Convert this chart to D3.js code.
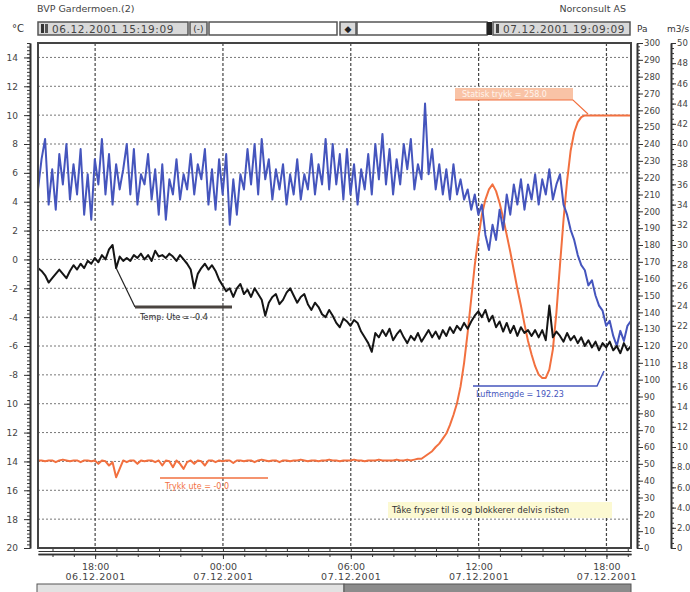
<!DOCTYPE html>
<html>
<head>
<meta charset="utf-8">
<script src="https://cdn.jsdelivr.net/npm/d3@7"></script>
<style>
  html, body { margin: 0; padding: 0; background: #fff; }
  svg { display: block; font-family: "DejaVu Sans", Verdana, sans-serif; }
</style>
</head>
<body>
<svg id="chart" width="690" height="592"></svg>
<script>
// Logged period and sampling interval
const startTime = Date.UTC(2001, 11, 6, 15, 19, 9);
const endTime = Date.UTC(2001, 11, 7, 19, 9, 9);
const sampleMinutes = 10;

// Outdoor temperature, °C (left axis)
const tempUte = [
  -0.6, -0.8, -1.1, -1.6, -1.3, -1.0, -0.7, -1.0, -1.3, -0.8,
  -0.4, -0.7, -0.3, -0.6, -0.1, -0.3, 0.1, -0.2, 0.3, 0.0,
  0.7, 1.0, -0.6, 0.2, -0.1, 0.1, -0.1, 0.3, 0.1, 0.4,
  0.0, 0.3, -0.1, 0.6, 0.2, 0.3, 0.1, 0.4, 0.2, -0.1,
  0.3, 0.0, -0.3, -0.7, -2.0, -1.0, -0.6, -0.3, -0.7, -0.4,
  -0.8, -1.4, -1.8, -2.2, -2.0, -2.6, -2.0, -1.7, -2.4, -2.1,
  -2.6, -2.0, -2.4, -2.8, -3.9, -3.0, -2.6, -2.4, -3.1, -2.8,
  -2.3, -2.0, -2.5, -3.0, -2.6, -2.4, -3.1, -3.5, -3.0, -3.3,
  -3.8, -4.0, -3.5, -3.9, -4.4, -4.7, -4.1, -4.3, -4.6, -4.2,
  -4.4, -5.0, -5.4, -5.8, -6.4, -5.1, -5.4, -4.9, -5.3, -4.8,
  -5.6, -5.2, -4.9, -5.4, -5.8, -5.3, -5.6, -5.1, -5.7, -5.3,
  -4.9, -5.4, -5.0, -5.5, -4.9, -5.3, -4.7, -5.1, -4.6, -4.9,
  -4.4, -4.8, -4.3, -3.9, -3.6, -4.0, -3.5, -4.3, -3.9, -4.7,
  -4.3, -5.0, -4.4, -5.1, -4.6, -5.3, -4.7, -5.1, -4.9, -5.3,
  -4.9, -5.4, -4.9, -5.6, -3.2, -5.4, -5.0, -5.3, -5.7, -5.1,
  -5.6, -5.3, -5.8, -5.4, -6.0, -5.6, -6.1, -5.7, -6.3, -5.8,
  -6.1, -5.7, -6.3, -6.0, -6.5, -5.8, -6.3, -6.0
];

// Air flow, m3/s (outer right axis)
const luftmengde = [
  35.5, 38.5, 40.5, 34.0, 37.5, 33.5, 39.0, 36.0, 40.0, 34.5,
  38.0, 35.0, 39.5, 33.0, 37.0, 32.5, 38.5, 36.0, 40.5, 35.0,
  39.0, 34.0, 38.0, 35.5, 37.5, 40.0, 35.0, 39.5, 34.0, 37.0,
  36.0, 39.0, 34.5, 37.5, 33.0, 38.0, 32.5, 36.5, 35.0, 38.5,
  34.5, 37.0, 35.5, 39.0, 35.0, 38.0, 36.5, 39.5, 34.0, 37.5,
  33.5, 38.5, 35.0, 39.0, 32.0, 36.5, 33.0, 37.0, 35.5, 39.5,
  36.0, 40.0, 35.0, 40.5, 36.5, 38.5, 34.5, 37.5, 35.5, 38.0,
  34.0, 37.0, 35.0, 38.5, 34.5, 37.0, 35.5, 39.0, 35.0, 38.0,
  36.0, 40.5, 35.5, 40.0, 36.0, 39.0, 34.5, 39.5, 35.0, 38.0,
  34.0, 37.5, 35.5, 39.0, 35.0, 40.0, 36.5, 41.0, 36.0, 39.5,
  35.0, 38.5, 36.0, 40.0, 37.5, 40.5, 35.5, 38.0, 36.5, 44.0,
  37.0, 39.5, 35.5, 38.0, 35.0, 37.5, 34.5, 38.0, 35.0, 36.5,
  34.5, 35.5, 33.5, 35.0, 33.0, 34.0, 31.0, 29.5, 32.0, 30.5,
  33.5, 31.5, 35.0, 33.0, 36.0, 34.0, 36.5, 33.5, 36.0, 34.5,
  37.0, 34.0, 36.5, 35.0, 37.5, 34.5, 36.0, 37.0, 34.0, 33.0,
  31.5, 30.5, 29.0, 28.0, 27.5, 26.0, 26.5, 25.0, 24.0, 23.5,
  22.0, 22.5, 21.0, 20.0, 21.5, 20.5, 22.0, 22.5
];

// Static pressure, Pa (inner right axis)
const trykk = [
  52, 52, 51.5, 52, 52, 51, 52, 52.5, 52, 51.5,
  52, 52, 51, 52, 52, 51.5, 52, 50, 52, 51.5,
  49, 51, 42, 47, 52, 51, 52, 52, 50, 52,
  51.5, 52, 52, 51, 52, 49, 52, 51.5, 48, 52,
  50, 47, 51, 52, 50, 52, 51.5, 49, 52, 52,
  51, 52, 51.5, 52, 52, 50.5, 52, 52, 51.5, 52,
  52, 51, 52, 52.5, 52, 51.5, 52, 52, 51, 52,
  52, 51.5, 52, 52, 52.5, 52, 51.5, 52, 52, 51.5,
  52, 52, 52.5, 52, 52, 51.5, 52, 52, 52, 52.5,
  52, 52, 51.5, 52, 52, 52, 52.5, 52, 52, 52,
  52, 52.5, 52, 52, 52.5, 52, 52.5, 53,
  53, 54.5, 56, 57.5, 60, 62, 65, 68, 73, 79, 86, 96,
  110, 128, 148, 168, 184, 198, 207, 213, 216, 212,
  205, 196, 186, 176, 165, 154, 144, 133, 123, 115,
  108, 103, 101, 101, 106, 118, 140, 168, 195, 218,
  236, 247, 253, 256, 257, 257, 257, 257, 257, 257,
  257, 257, 257, 257, 257, 257, 257, 257
];

// Axis ticks and labels
const tempTicks = [14, 12, 10, 8, 6, 4, 2, 0, -2, -4, -6, -8, -10, -12, -14, -16, -18, -20];
const tempTickLabels = ["14", "12", "10", "8", "6", "4", "2", "0", "-2", "-4", "-6", "-8", "10", "12", "14", "16", "18", "20"];
const paTicks = [300, 290, 280, 270, 260, 250, 240, 230, 220, 210, 200, 190, 180, 170, 160, 150,
                 140, 130, 120, 110, 100, 90, 80, 70, 60, 50, 40, 30, 20, 10, 0];
const flowTicks = [50, 48, 46, 44, 42, 40, 38, 36, 34, 32, 30, 28, 26, 24, 22, 20, 18, 16, 14, 12, 10, 8, 6, 4, 2, 0];
const flowTickLabels = ["50", "48", "46", "44", "42", "40", "38", "36", "34", "32", "30", "28", "26",
                        "24", "22", "20", "18", "16", "14", "12", "10", "8.0", "6.0", "4.0", "2.0", "0"];
const timeTicks = [Date.UTC(2001, 11, 6, 18), Date.UTC(2001, 11, 7, 0), Date.UTC(2001, 11, 7, 6),
                   Date.UTC(2001, 11, 7, 12), Date.UTC(2001, 11, 7, 18)];
const timeTickClock = ["18:00", "00:00", "06:00", "12:00", "18:00"];
const timeTickDate = ["06.12.2001", "07.12.2001", "07.12.2001", "07.12.2001", "07.12.2001"];

const svg = d3.select("#chart");
const L = 38, R = 631, T = 43, B = 548;

const x = d3.scaleUtc().domain([startTime, endTime]).range([L, R]);
const yT = d3.scaleLinear().domain([-20, 15]).range([B, T]);
const yP = d3.scaleLinear().domain([0, 300]).range([B, T]);
const yQ = d3.scaleLinear().domain([0, 50]).range([B, T]);
const tAt = i => startTime + i * sampleMinutes * 60000;

// ---- header ----
svg.append("text").attr("x", 37).attr("y", 12).attr("font-size", 9.5).attr("fill", "#444").text("BVP Gardermoen.(2)");
svg.append("text").attr("x", 626).attr("y", 12).attr("font-size", 9.5).attr("fill", "#444")
  .attr("text-anchor", "end").text("Norconsult AS");
svg.append("text").attr("x", 12).attr("y", 32).attr("font-size", 10).attr("fill", "#333").text("°C");
svg.append("text").attr("x", 637).attr("y", 32).attr("font-size", 9).attr("fill", "#333").text("Pa");
svg.append("text").attr("x", 667).attr("y", 32).attr("font-size", 9).attr("fill", "#333").text("m3/s");

const hdr = svg.append("g");
const hy = 22, hh = 13;
function box(x0, w, fill) {
  hdr.append("rect").attr("x", x0).attr("y", hy).attr("width", w).attr("height", hh)
    .attr("fill", fill).attr("stroke", "#555").attr("stroke-width", 1.5);
}
box(38, 150, "#d9d9d9");
hdr.append("rect").attr("x", 41).attr("y", hy + 2).attr("width", 3).attr("height", hh - 4).attr("fill", "#333");
hdr.append("rect").attr("x", 45).attr("y", hy + 2).attr("width", 3).attr("height", hh - 4).attr("fill", "#555");
hdr.append("text").attr("x", 52).attr("y", hy + 10.5).attr("font-size", 10.5).attr("letter-spacing", 0.6)
  .attr("fill", "#444").text("06.12.2001 15:19:09");
box(190, 17, "#d9d9d9");
hdr.append("text").attr("x", 198.5).attr("y", hy + 10).attr("font-size", 9).attr("text-anchor", "middle")
  .attr("fill", "#333").text("(-)");
box(209, 128, "#fff");
box(340, 16, "#d9d9d9");
hdr.append("text").attr("x", 348).attr("y", hy + 10).attr("font-size", 9).attr("text-anchor", "middle")
  .attr("fill", "#222").text("◆");
box(357, 130, "#fff");
hdr.append("rect").attr("x", 487).attr("y", hy).attr("width", 5).attr("height", hh).attr("fill", "#222");
box(493, 137, "#d9d9d9");
hdr.append("rect").attr("x", 496).attr("y", hy + 2).attr("width", 3).attr("height", hh - 4).attr("fill", "#444");
hdr.append("text").attr("x", 503).attr("y", hy + 10.5).attr("font-size", 10.5).attr("letter-spacing", 0.6)
  .attr("fill", "#444").text("07.12.2001 19:09:09");

// ---- grid ----
const grid = svg.append("g");
grid.selectAll("line.h").data(tempTicks.filter(v => v > -20)).join("line")
  .attr("x1", L).attr("x2", R).attr("y1", d => yT(d)).attr("y2", d => yT(d))
  .attr("stroke", "#777").attr("stroke-width", 1).attr("stroke-dasharray", "2,2");
grid.selectAll("line.v").data(timeTicks).join("line")
  .attr("x1", d => x(d)).attr("x2", d => x(d)).attr("y1", T).attr("y2", B)
  .attr("stroke", "#444").attr("stroke-width", 1.2).attr("stroke-dasharray", "3,2");

// ---- series ----
const lineT = d3.line().x((d, i) => x(tAt(i))).y(d => yT(d));
const lineP = d3.line().x((d, i) => x(tAt(i))).y(d => yP(d));
const lineQ = d3.line().x((d, i) => x(tAt(i))).y(d => yQ(d));

svg.append("path").datum(trykk).attr("d", lineP).attr("fill", "none")
  .attr("stroke", "#f2703f").attr("stroke-width", 2).attr("stroke-linejoin", "round");
svg.append("path").datum(luftmengde).attr("d", lineQ).attr("fill", "none")
  .attr("stroke", "#4555bd").attr("stroke-width", 2).attr("stroke-linejoin", "round");
svg.append("path").datum(tempUte).attr("d", lineT).attr("fill", "none")
  .attr("stroke", "#151515").attr("stroke-width", 2).attr("stroke-linejoin", "round");

// ---- frame ----
svg.append("rect").attr("x", L).attr("y", T).attr("width", R - L).attr("height", B - T)
  .attr("fill", "none").attr("stroke", "#444").attr("stroke-width", 2);

// ---- axes ----
function styleAxis(g) {
  g.selectAll("path.domain").attr("stroke", "#333").attr("stroke-width", 1.6);
  g.selectAll(".tick line").attr("stroke", "#333");
  g.selectAll("text").attr("fill", "#444").attr("font-family", '"DejaVu Sans", Verdana, sans-serif');
}

// left °C ruler
svg.append("g").attr("transform", "translate(30,0)")
  .call(d3.axisLeft(yT).tickValues(d3.range(-20, 15.01, 0.25)).tickSize(3).tickSizeOuter(0).tickFormat(""))
  .call(styleAxis);
svg.append("g").attr("transform", "translate(30,0)")
  .call(d3.axisLeft(yT).tickValues(tempTicks).tickSize(6).tickSizeOuter(0).tickPadding(6)
    .tickFormat((d, i) => tempTickLabels[i]))
  .call(styleAxis)
  .call(g => g.selectAll("text").attr("font-size", 9));

// right Pa ruler
svg.append("g").attr("transform", "translate(637,0)")
  .call(d3.axisRight(yP).tickValues(d3.range(0, 300.1, 2)).tickSize(3).tickSizeOuter(0).tickFormat(""))
  .call(styleAxis);
svg.append("g").attr("transform", "translate(637,0)")
  .call(d3.axisRight(yP).tickValues(paTicks).tickSize(6).tickSizeOuter(0).tickPadding(1))
  .call(styleAxis)
  .call(g => g.selectAll("text").attr("font-size", 8.5));

// right m3/s ruler
svg.append("g").attr("transform", "translate(671,0)")
  .call(d3.axisRight(yQ).tickValues(d3.range(0, 50.01, 0.5)).tickSize(3).tickSizeOuter(0).tickFormat(""))
  .call(styleAxis);
svg.append("g").attr("transform", "translate(671,0)")
  .call(d3.axisRight(yQ).tickValues(flowTicks).tickSize(5).tickSizeOuter(0).tickPadding(1)
    .tickFormat((d, i) => flowTickLabels[i]))
  .call(styleAxis)
  .call(g => g.selectAll("text").attr("font-size", 8.5));

// bottom time ruler
svg.append("g").attr("transform", "translate(0,554)")
  .call(d3.axisBottom(x).tickValues(d3.utcHour.range(startTime, endTime)).tickSize(3).tickSizeOuter(0).tickFormat(""))
  .call(styleAxis);
svg.append("g").attr("transform", "translate(0,551)")
  .call(d3.axisTop(x).tickValues(d3.utcHour.range(startTime, endTime)).tickSize(2).tickSizeOuter(0).tickFormat(""))
  .call(styleAxis)
  .call(g => g.select("path.domain").attr("stroke-width", 1));
const xAx = svg.append("g").attr("transform", "translate(0,554)")
  .call(d3.axisBottom(x).tickValues(timeTicks).tickSize(5).tickSizeOuter(0).tickPadding(2).tickFormat(""))
  .call(styleAxis);
xAx.selectAll(".tick").each(function (d, i) {
  const t = d3.select(this).select("text").attr("font-size", 9.5).attr("dy", null);
  t.append("tspan").attr("x", 0).attr("dy", "0.9em").text(timeTickClock[i]);
  t.append("tspan").attr("x", 0).attr("dy", "1.15em").attr("letter-spacing", 0.6).text(timeTickDate[i]);
});

// scroll bar
svg.append("rect").attr("x", 37).attr("y", 584).attr("width", 307).attr("height", 11)
  .attr("fill", "#e2e2e2").attr("stroke", "#555").attr("stroke-width", 1);
svg.append("rect").attr("x", 344).attr("y", 584).attr("width", 287).attr("height", 11)
  .attr("fill", "#8c8c8c").attr("stroke", "#555").attr("stroke-width", 1);

// ---- annotations ----
const ann = svg.append("g").attr("font-size", 8);
// outdoor temperature cursor label
ann.append("polyline")
  .attr("points", [[x(tAt(22)), yT(tempUte[22])], [135, 307]].join(" "))
  .attr("fill", "none").attr("stroke", "#222").attr("stroke-width", 1.2);
ann.append("line").attr("x1", 135).attr("x2", 232).attr("y1", 307).attr("y2", 307)
  .attr("stroke", "#4a4440").attr("stroke-width", 3);
ann.append("text").attr("x", 140).attr("y", 320).attr("fill", "#333").text("Temp. Ute = -0.4");

// air flow label
ann.append("polyline").attr("points", "473,386 597,386 604,371")
  .attr("fill", "none").attr("stroke", "#4555bd").attr("stroke-width", 1.5);
ann.append("text").attr("x", 476).attr("y", 397).attr("fill", "#4555bd").text("Luftmengde = 192.23");

// pressure labels
ann.append("rect").attr("x", 455).attr("y", 88).attr("width", 118).attr("height", 12).attr("fill", "#f9c3a6");
ann.append("text").attr("x", 462).attr("y", 97).attr("fill", "#fff4ec").text("Statisk trykk = 258.0");
ann.append("polyline").attr("points", "455,100 573,100 588,114")
  .attr("fill", "none").attr("stroke", "#f2703f").attr("stroke-width", 1.2);
ann.append("line").attr("x1", 160).attr("x2", 268).attr("y1", 478).attr("y2", 478)
  .attr("stroke", "#f2703f").attr("stroke-width", 1.5);
ann.append("text").attr("x", 165).attr("y", 489).attr("fill", "#f2703f").text("Trykk ute = -0.0");

// note
ann.append("rect").attr("x", 388).attr("y", 502).attr("width", 224).attr("height", 16).attr("fill", "#fcf9d2");
ann.append("text").attr("x", 392).attr("y", 513).attr("font-size", 8.5).attr("fill", "#333")
  .text("Tåke fryser til is og blokkerer delvis risten");
</script>
</body>
</html>
